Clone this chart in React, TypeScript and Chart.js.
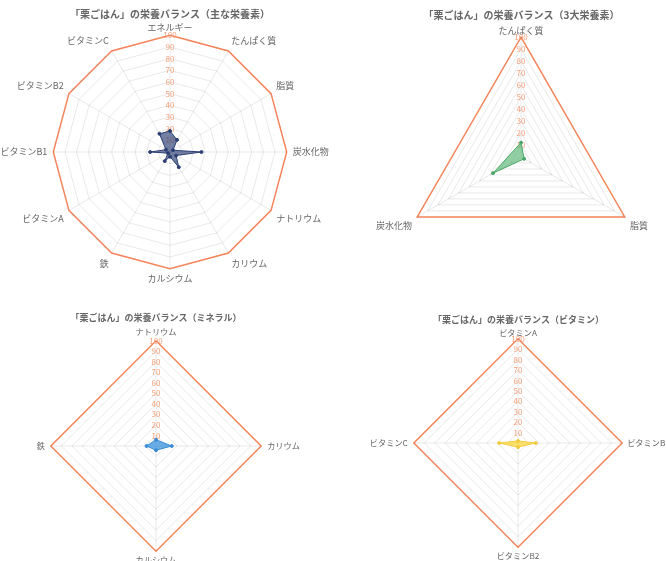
import React, { useEffect, useRef } from "react";
import { Chart, registerables } from "chart.js";

Chart.register(...registerables);

const FONT = '"Noto Sans CJK JP", "Noto Sans", sans-serif';

const mainLabels = ["エネルギー", "たんぱく質", "脂質", "炭水化物", "ナトリウム", "カリウム", "カルシウム", "鉄", "ビタミンA", "ビタミンB1", "ビタミンB2", "ビタミンC"];
const mainValues = [18, 12, 3, 27, 6, 15, 4, 9, 2, 17, 4, 18];

const macroLabels = ["たんぱく質", "脂質", "炭水化物"];
const macroValues = [12, 3, 27];

const mineralLabels = ["ナトリウム", "カリウム", "カルシウム", "鉄"];
const mineralValues = [6, 15, 4, 9];

const vitaminLabels = ["ビタミンA", "ビタミンB1", "ビタミンB2", "ビタミンC"];
const vitaminValues = [2, 17, 4, 18];

const titles = [
  "「栗ごはん」の栄養バランス（主な栄養素）",
  "「栗ごはん」の栄養バランス（3大栄養素）",
  "「栗ごはん」の栄養バランス（ミネラル）",
  "「栗ごはん」の栄養バランス（ビタミン）",
];

const ORANGE = "#f4845a";

type Props = {
  labels: string[];
  values: number[];
  title: string;
  fill: string;
  border: string;
  box: { left: number; top: number; width: number; height: number };
  titlePad: { top: number; bottom: number };
  titleSize: number;
  labelSize: number;
  labelPads: Record<number, number>;
};

function RadarChart({ labels, values, title, fill, border, box, titlePad, titleSize, labelSize, labelPads }: Props) {
  const ref = useRef<HTMLCanvasElement | null>(null);
  useEffect(() => {
    if (!ref.current) return;
    const chart = new Chart(ref.current, {
      type: "radar",
      data: {
        labels,
        datasets: [
          {
            data: values,
            backgroundColor: fill,
            borderColor: border,
            borderWidth: 1,
            pointRadius: 1.5,
            pointBackgroundColor: border,
            pointBorderColor: border,
          },
        ],
      },
      options: {
        animation: false,
        responsive: true,
        maintainAspectRatio: false,
        plugins: {
          legend: { display: false },
          tooltip: { enabled: false },
          title: {
            display: true,
            text: title,
            color: "#666",
            font: { family: FONT, size: titleSize, weight: "bold", lineHeight: 1.2 },
            padding: titlePad,
          },
        },
        scales: {
          r: {
            min: 0,
            max: 100,
            ticks: {
              stepSize: 10,
              showLabelBackdrop: false,
              backdropPadding: 0,
              color: "#f5a07a",
              font: { family: FONT, size: 8 },
            },
            pointLabels: {
              color: "#666",
              font: { family: FONT, size: labelSize },
              padding: (ctx: any) => (labelPads[ctx.index] !== undefined ? labelPads[ctx.index] : 2),
            },
            grid: {
              color: (ctx: any) => (ctx.tick && ctx.tick.value === 100 ? ORANGE : "rgba(0,0,0,0.09)"),
              lineWidth: (ctx: any) => (ctx.tick && ctx.tick.value === 100 ? 1.5 : 1),
            },
            angleLines: { color: "rgba(0,0,0,0.09)" },
          },
        },
      },
    });
    return () => chart.destroy();
  }, []);
  return (
    <div style={{ position: "absolute", left: box.left, top: box.top, width: box.width, height: box.height }}>
      <canvas ref={ref} />
    </div>
  );
}

export default function App() {
  return (
    <div style={{ position: "absolute", left: 0, top: 0, width: 666, height: 561, background: "#fff", overflow: "hidden" }}>
      <RadarChart labels={mainLabels} values={mainValues} title={titles[0]} fill="rgba(40,60,115,0.65)" border="#2b3f73"
        box={{ left: -12, top: 0, width: 364, height: 286 }} titlePad={{ top: 8, bottom: 2 }}
        titleSize={10} labelSize={9} labelPads={{ 0: -1.5, 6: 0.5 }} />
      <RadarChart labels={macroLabels} values={macroValues} title={titles[1]} fill="rgba(75,175,105,0.6)" border="#4aa868"
        box={{ left: 365, top: 0, width: 313, height: 286 }} titlePad={{ top: 9, bottom: 0 }}
        titleSize={10} labelSize={9} labelPads={{ 0: -2.6 }} />
      <RadarChart labels={mineralLabels} values={mineralValues} title={titles[2]} fill="rgba(54,145,220,0.75)" border="#3a8bd4"
        box={{ left: -4, top: 304, width: 320, height: 261 }} titlePad={{ top: 8.6, bottom: 3.6 }}
        titleSize={9} labelSize={8.2} labelPads={{ 0: 0, 2: 0 }} />
      <RadarChart labels={vitaminLabels} values={vitaminValues} title={titles[3]} fill="rgba(250,215,70,0.8)" border="#f2cc40"
        box={{ left: 348, top: 304, width: 341, height: 259 }} titlePad={{ top: 9.9, bottom: 2.3 }}
        titleSize={9} labelSize={8.2} labelPads={{ 0: -3.1, 1: 1, 2: 0 }} />
    </div>
  );
}
